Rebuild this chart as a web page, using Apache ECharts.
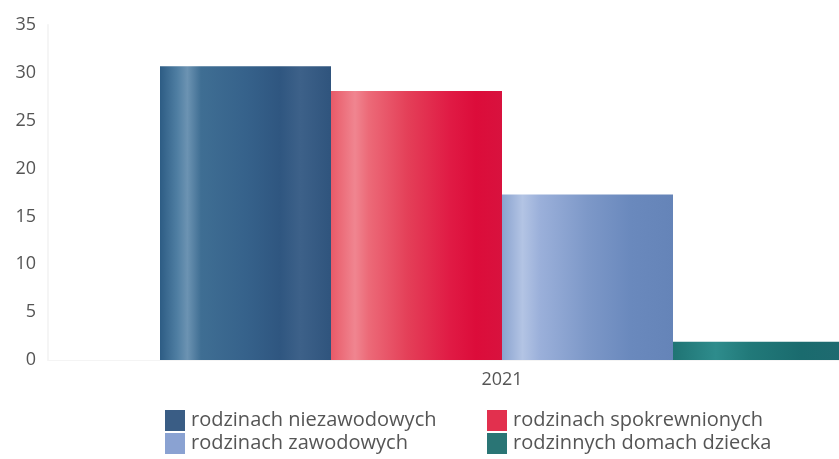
<!DOCTYPE html>
<html>
<head>
<meta charset="utf-8">
<script src="https://cdn.jsdelivr.net/npm/echarts@6/dist/echarts.min.js"></script>
<style>
  html, body { margin: 0; padding: 0; background: #fff; }
  #chart { width: 839px; height: 459px; }
</style>
</head>
<body>
<div id="chart"></div>
<script>
// dane z wykresu
const categories = ['2021']
const seriesNames = ['rodzinach niezawodowych', 'rodzinach spokrewnionych', 'rodzinach zawodowych', 'rodzinnych domach dziecka']
const niezawodowe = [30.7]
const spokrewnione = [28.1]
const zawodowe = [17.3]
const domyDziecka = [1.9]
const yTicks = [0, 5, 10, 15, 20, 25, 30, 35]

// kolory: gradient "walca" + kolor do legendy
const gradStops = [
  [[0, '#2d5c84'], [0.1, '#4f7ea2'], [0.16, '#6c93b2'], [0.24, '#3f6e93'], [0.5, '#36628b'], [0.7, '#2f5680'], [0.82, '#3d6189'], [1, '#2f547d']],
  [[0, '#e85a68'], [0.14, '#f08590'], [0.22, '#ec6a78'], [0.45, '#e43f58'], [0.7, '#e01a44'], [0.85, '#dc0c3a'], [1, '#d8123e']],
  [[0, '#8aa3cf'], [0.12, '#b3c4e4'], [0.22, '#9bb0da'], [0.5, '#7d98c8'], [0.75, '#6a89bd'], [1, '#6584b8']],
  [[0, '#1f7474'], [0.25, '#2e8c8c'], [0.45, '#217979'], [0.75, '#1a6b6e'], [1, '#1f6a70']]
]
const legendColors = ['#3a5d85', '#e2304e', '#8aa2d2', '#2a7575']
const dataSets = [niezawodowe, spokrewnione, zawodowe, domyDziecka]
// pozycje legendy (2 kolumny x 2 wiersze)
const legendPos = [[165, 410], [487, 410], [165, 433], [487, 433]]

const chart = echarts.init(document.getElementById('chart'))

const series = seriesNames.map((name, i) => ({
  name: name,
  type: 'bar',
  data: dataSets[i],
  barWidth: 171,
  barGap: '0%',
  itemStyle: {
    color: new echarts.graphic.LinearGradient(0, 0, 1, 0, gradStops[i].map(s => ({ offset: s[0], color: s[1] })))
  }
}))

const legends = seriesNames.map((name, i) => ({
  left: legendPos[i][0],
  top: legendPos[i][1],
  padding: 0,
  itemWidth: 20,
  itemHeight: 21,
  icon: 'rect',
  selectedMode: false,
  textStyle: { fontFamily: 'Open Sans', fontSize: 20, color: '#555', padding: [0, 0, 0, 1] },
  data: [{ name: name, itemStyle: { color: legendColors[i] } }]
}))

const option = {
  animation: false,
  textStyle: { fontFamily: 'Open Sans' },
  // wykres wychodzi poza prawą krawędź (ostatni słupek przycięty)
  grid: { left: 48, top: 25, bottom: 99, right: -117, containLabel: false, outerBoundsMode: 'none' },
  legend: legends,
  xAxis: {
    type: 'category',
    data: categories,
    axisLine: { show: true, lineStyle: { color: '#f4f4f4', width: 1 } },
    axisTick: { show: false },
    axisLabel: { color: '#555', fontSize: 18, margin: 11 }
  },
  yAxis: {
    type: 'value',
    min: yTicks[0],
    max: yTicks[yTicks.length - 1],
    interval: 5,
    axisLine: { show: true, lineStyle: { color: '#f5f5f5', width: 2 } },
    axisTick: { show: false },
    splitLine: { show: false },
    axisLabel: { color: '#555', fontSize: 18, margin: 12 }
  },
  series: series
}

chart.setOption(option)
</script>
</body>
</html>
